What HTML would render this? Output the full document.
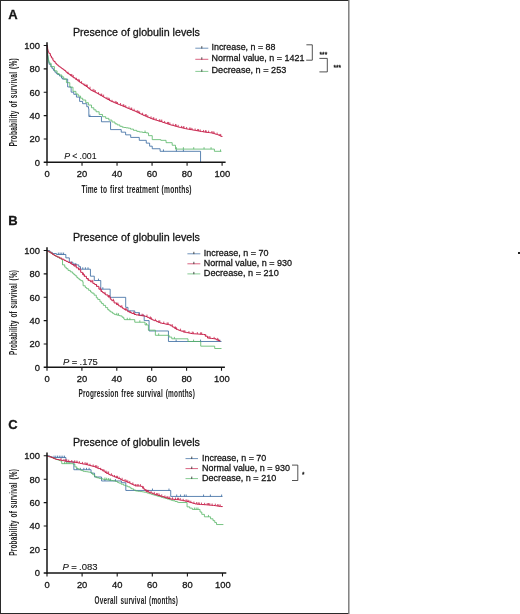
<!DOCTYPE html>
<html lang="en"><head><meta charset="utf-8"><title>Presence of globulin levels</title>
<style>html,body{margin:0;padding:0;background:#fff;}svg{display:block;will-change:transform;}text{font-family:"Liberation Sans",sans-serif;fill:#161616;stroke:#161616;stroke-width:0.28px;}text.c{stroke-width:0;font-weight:bold;fill:#222;}text.k{stroke-width:0.3px;}</style></head><body>
<svg width="520" height="614" viewBox="0 0 520 614">
<rect x="0" y="0" width="520" height="614" fill="#fff"/>
<path d="M0 0.5H349" stroke="#2a2a2a" stroke-width="1" fill="none"/>
<path d="M0.5 0V614" stroke="#2a2a2a" stroke-width="1" fill="none"/>
<path d="M0 613.5H349" stroke="#2a2a2a" stroke-width="1" fill="none"/>
<path d="M348.8 0V614" stroke="#777" stroke-width="1.4" fill="none"/>
<rect x="518" y="252" width="2" height="2" fill="#222"/>
<g>
<text x="8.2" y="19.2" font-size="13" font-weight="bold" fill="#111">A</text>
<text x="72.9" y="36.0" font-size="10.4" textLength="127" lengthAdjust="spacingAndGlyphs">Presence of globulin levels</text>
<path d="M47.00 45.50H47.32V50.76H47.63V56.01H47.95V58.41H48.26V59.98H48.58V61.56H48.89V63.14H49.21V64.35H50.89V66.94H52.13V68.66H53.48V70.37H54.91V72.20H56.35V73.63H57.57V74.53H59.48V76.03H61.52V78.08H62.58V79.14H67.66V86.96H71.13V92.17H73.76V94.30H76.43V97.09H79.60V101.42H82.61V103.69H86.80V106.72H88.50V108.69H88.85V116.51H101.46V121.77H110.56V129.60H121.24V132.17H125.62V134.85H130.70V137.42H139.28V140.34H146.28V143.14H149.61V146.18H152.24V148.75H160.11V151.32H200.56V162.30" fill="none" stroke="#33669e" stroke-width="0.8" stroke-linejoin="miter"/>
<path d="M89.90 116.51v-1.90M163.44 151.32v-1.90M176.40 151.32v-1.90M183.40 151.32v-1.90" fill="none" stroke="#33669e" stroke-width="0.8"/>
<path d="M47.00 45.50H47.32V50.23H47.63V54.96H47.95V57.24H48.26V58.82H48.58V60.39H48.89V61.97H49.21V63.21H51.08V66.58H54.42V70.91H57.09V73.47H59.16V74.99H61.85V76.87H63.73V78.97H66.41V82.66H69.79V87.18H72.99V91.35H75.92V94.01H78.17V96.05H80.59V98.21H82.69V100.03H85.74V102.68H88.42V105.04H91.49V107.77H93.85V109.86H96.04V111.76H99.15V114.46H102.54V116.70H105.73V118.34H108.84V120.08H111.96V122.01H114.97V123.81H117.16V124.93H119.82V126.30H122.22V127.19H124.10V127.50H125.98V127.82H128.26V128.20H130.51V129.12H133.44V130.33H136.79V131.39H139.33V131.98H142.64V132.46H146.04V132.86H148.03V133.10H148.56V135.67H152.24V139.64H160.81V140.34H166.07V142.68H172.20V145.25H175.52V149.10H214.40V151.32H221.40" fill="none" stroke="#55b565" stroke-width="0.8" stroke-linejoin="miter"/>
<path d="M145.06 132.46v-1.90M176.40 149.10v-1.90M183.40 149.10v-1.90M193.73 149.10v-1.90M204.06 149.10v-1.90M211.07 149.10v-1.90M220.52 151.32v-1.90" fill="none" stroke="#55b565" stroke-width="0.8"/>
<path d="M47.00 45.50H47.32V47.39H47.63V49.28H47.95V50.90H48.26V51.57H48.58V52.23H48.89V52.89H49.21V53.56H50.38V55.98H51.42V57.94H52.85V60.27H53.83V61.49H55.17V63.18H56.38V64.33H57.34V65.24H58.66V66.37H59.61V67.03H60.87V67.90H61.84V68.58H62.84V69.31H64.09V70.41H65.66V71.78H66.68V72.67H67.77V73.61H69.19V74.65H70.85V75.87H72.23V76.88H73.46V77.78H75.15V78.99H76.10V79.68H77.70V80.82H78.85V81.65H79.88V82.38H80.89V83.06H82.05V83.83H83.61V84.87H84.68V85.58H86.05V86.50H87.48V87.57H88.69V88.58H90.04V89.71H91.01V90.27H91.98V90.77H93.06V91.32H94.51V92.07H95.77V92.72H96.94V93.31H98.32V94.13H99.59V94.89H100.75V95.58H102.29V96.51H103.76V97.39H104.87V98.01H106.25V98.76H107.58V99.50H109.19V100.38H110.68V101.20H111.83V101.71H113.52V102.40H114.53V102.82H115.78V103.33H117.30V103.95H118.34V104.38H119.64V104.93H120.59V105.32H122.04V105.92H123.56V106.56H124.93V107.13H126.54V107.82H127.70V108.32H129.17V108.95H130.56V109.54H131.94V110.12H133.21V110.63H134.80V111.26H136.46V112.05H137.75V112.69H139.19V113.39H140.16V113.87H141.63V114.59H143.06V115.29H144.76V116.03H146.33V116.67H147.48V117.14H148.70V117.64H150.14V118.23H151.08V118.61H152.36V119.12H153.42V119.45H154.43V119.76H155.39V120.05H156.92V120.52H157.94V120.83H159.05V121.18H160.28V121.55H161.89V122.08H162.87V122.41H164.14V122.84H165.50V123.30H167.11V123.85H168.68V124.39H170.28V124.88H171.41V125.19H172.66V125.53H173.86V125.86H175.48V126.30H177.15V126.75H178.19V127.04H179.25V127.28H180.35V127.54H181.45V127.79H182.76V128.09H184.14V128.41H185.27V128.67H186.19V128.89H187.44V129.13H188.65V129.34H190.01V129.58H191.68V129.87H193.15V130.12H194.47V130.35H195.88V130.60H197.33V130.86H198.29V131.03H199.92V131.32H201.45V131.59H203.06V131.87H204.61V132.11H205.84V132.26H207.07V132.40H208.07V132.52H209.49V132.68H210.46V132.80H211.43V132.97H212.52V133.29H213.56V133.59H214.75V133.94H215.71V134.22H216.63V134.48H217.67V134.79H218.67V135.24H219.87V135.84H220.81V136.31H222.10V136.95" fill="none" stroke="#c8234c" stroke-width="1.0" stroke-linejoin="miter"/>
<path d="M68.01 73.61v-1.90M70.89 75.87v-1.90M71.82 75.87v-1.90M73.24 76.88v-1.90M76.50 79.68v-1.90M78.78 80.82v-1.90M79.48 81.65v-1.90M81.57 83.06v-1.90M84.87 85.58v-1.90M86.48 86.50v-1.90M87.31 86.50v-1.90M90.03 88.58v-1.90M93.05 90.77v-1.90M94.09 91.32v-1.90M95.35 92.07v-1.90M98.53 94.13v-1.90M101.00 95.58v-1.90M101.73 95.58v-1.90M103.62 96.51v-1.90M106.95 98.76v-1.90M108.75 99.50v-1.90M109.50 100.38v-1.90M112.05 101.71v-1.90M115.19 102.82v-1.90M116.38 103.33v-1.90M117.48 103.95v-1.90M120.56 104.93v-1.90M123.20 105.92v-1.90M123.99 106.56v-1.90M125.69 107.13v-1.90M129.01 108.32v-1.90M131.00 109.54v-1.90M131.72 109.54v-1.90M134.08 110.63v-1.90M137.31 112.05v-1.90M138.66 112.69v-1.90M139.63 113.39v-1.90M142.58 114.59v-1.90M145.39 116.03v-1.90M146.26 116.03v-1.90M147.77 117.14v-1.90M151.06 118.23v-1.90M153.25 119.12v-1.90M153.95 119.45v-1.90M156.12 120.05v-1.90M159.41 121.18v-1.90M160.93 121.55v-1.90M161.80 121.55v-1.90M164.60 122.84v-1.90M167.56 123.85v-1.90M168.54 123.85v-1.90M169.87 124.39v-1.90M173.09 125.53v-1.90M175.48 125.86v-1.90M176.19 126.30v-1.90M178.17 126.75v-1.90M181.49 127.79v-1.90M183.20 128.09v-1.90M183.98 128.09v-1.90M186.62 128.89v-1.90M189.70 129.34v-1.90M190.82 129.58v-1.90M191.99 129.87v-1.90M195.12 130.35v-1.90M197.69 130.86v-1.90M198.45 131.03v-1.90M200.23 131.32v-1.90M203.56 131.87v-1.90M205.46 132.11v-1.90M206.19 132.26v-1.90M208.64 132.52v-1.90M211.83 132.97v-1.90M213.10 133.29v-1.90M214.13 133.59v-1.90M217.14 134.48v-1.90M219.88 135.84v-1.90M220.71 135.84v-1.90" fill="none" stroke="#c8234c" stroke-width="0.8"/>
<path d="M47 42.20V163.05" stroke="#151515" stroke-width="1.5" fill="none"/>
<path d="M43.7 162.30H225.6" stroke="#151515" stroke-width="1.5" fill="none"/>
<path d="M43.7 138.94H47M43.7 115.58H47M43.7 92.22H47M43.7 68.86H47M43.7 45.50H47M47.00 162.30V165.80M82.02 162.30V165.80M117.04 162.30V165.80M152.06 162.30V165.80M187.08 162.30V165.80M222.10 162.30V165.80" stroke="#151515" stroke-width="1.1" fill="none"/>
<text x="39.9" y="165.65" font-size="9.4" text-anchor="end" class="k">0</text>
<text x="39.9" y="142.29" font-size="9.4" text-anchor="end" class="k">20</text>
<text x="39.9" y="118.93" font-size="9.4" text-anchor="end" class="k">40</text>
<text x="39.9" y="95.57" font-size="9.4" text-anchor="end" class="k">60</text>
<text x="39.9" y="72.21" font-size="9.4" text-anchor="end" class="k">80</text>
<text x="39.9" y="48.85" font-size="9.4" text-anchor="end" class="k">100</text>
<text x="47.00" y="177.20" font-size="9.4" text-anchor="middle" class="k">0</text>
<text x="82.02" y="177.20" font-size="9.4" text-anchor="middle" class="k">20</text>
<text x="117.04" y="177.20" font-size="9.4" text-anchor="middle" class="k">40</text>
<text x="152.06" y="177.20" font-size="9.4" text-anchor="middle" class="k">60</text>
<text x="187.08" y="177.20" font-size="9.4" text-anchor="middle" class="k">80</text>
<text x="222.40" y="177.20" font-size="9.4" text-anchor="middle" class="k">100</text>
<text x="81.5" y="192.5" font-size="10.7" class="c" letter-spacing="0.35" word-spacing="1.2" textLength="110.3" lengthAdjust="spacingAndGlyphs">Time to first treatment (months)</text>
<text transform="translate(17.2 146.5) rotate(-90)" font-size="10.7" class="c" letter-spacing="0.35" word-spacing="1.2" textLength="88.3" lengthAdjust="spacingAndGlyphs">Probability of survival (%)</text>
<text x="64.2" y="159.1" font-size="9.0" style="stroke-width:0.1px" word-spacing="-0.3" textLength="32.4" lengthAdjust="spacingAndGlyphs"><tspan font-style="italic">P</tspan> &lt; .001</text>
<path d="M195.3 48.20H208.3" stroke="#33669e" stroke-width="0.7" fill="none"/>
<path d="M201.80 48.50v-2.3" stroke="#222" stroke-width="0.8" fill="none"/>
<text x="211.5" y="50.00" font-size="9.0" textLength="64.0" lengthAdjust="spacingAndGlyphs">Increase, n = 88</text>
<path d="M195.3 59.30H208.3" stroke="#c8234c" stroke-width="0.7" fill="none"/>
<path d="M201.80 59.60v-2.3" stroke="#222" stroke-width="0.8" fill="none"/>
<text x="211.5" y="61.10" font-size="9.0" textLength="93.0" lengthAdjust="spacingAndGlyphs">Normal value, n = 1421</text>
<path d="M195.3 71.40H208.3" stroke="#55b565" stroke-width="0.7" fill="none"/>
<path d="M201.80 71.70v-2.3" stroke="#222" stroke-width="0.8" fill="none"/>
<text x="211.5" y="73.10" font-size="9.0" textLength="74.8" lengthAdjust="spacingAndGlyphs">Decrease, n = 253</text>
</g>
<g>
<text x="8.2" y="224.5" font-size="13" font-weight="bold" fill="#111">B</text>
<text x="72.9" y="241.0" font-size="10.4" textLength="127" lengthAdjust="spacingAndGlyphs">Presence of globulin levels</text>
<path d="M47.00 250.50H49.62V252.25H52.23V253.54H56.42V254.47H65.85V257.86H69.34V262.18H72.83V264.87H78.76V266.62H80.50V269.19H90.45V276.20H94.29V280.52H100.75V289.16H110.17V297.34H125.70V307.38H127.97V310.89H134.77V312.64H139.49V315.32H144.20V320.58H149.08V330.98H168.45V341.49H221.50" fill="none" stroke="#33669e" stroke-width="0.8" stroke-linejoin="miter"/>
<path d="M58.34 254.47v-1.90M60.09 254.47v-1.90M61.83 254.47v-1.90M63.58 254.47v-1.90M74.05 264.87v-1.90M75.79 264.87v-1.90M82.77 269.19v-1.90M85.39 269.19v-1.90M88.01 269.19v-1.90M98.48 280.52v-1.90M102.84 289.16v-1.90M176.13 341.49v-1.90M200.56 341.49v-1.90M219.76 341.49v-1.90" fill="none" stroke="#33669e" stroke-width="0.8"/>
<path d="M47.00 250.50H47.31V250.72H47.63V250.94H47.94V251.16H48.26V251.38H48.57V251.61H48.88V251.83H49.20V252.05H50.78V253.16H52.53V254.39H54.06V255.43H55.66V256.31H57.21V257.16H59.20V258.26H60.95V259.22H61.66V259.61H62.53V264.87H64.74V267.16H66.23V268.71H68.04V270.41H70.25V271.84H72.35V273.20H73.71V274.40H75.06V275.76H76.75V277.45H78.04V278.75H79.52V279.78H80.82V280.68H82.74V282.01H82.77V282.04H83.12V285.77H85.28V287.56H86.67V288.70H88.64V290.33H90.55V291.97H91.92V293.14H94.07V295.17H96.30V297.76H97.75V299.45H99.97V301.86H101.61V303.56H103.34V305.36H105.60V307.60H107.69V309.65H109.08V310.98H110.76V312.10H112.52V313.28H114.09V314.33H115.52V314.73H117.08V315.13H119.05V315.64H120.29V315.96H122.10V317.25H123.78V318.94H124.48V319.65H134.77V322.22H145.07V324.90H148.38V330.16H155.36V335.30H169.15V337.05H171.77V338.80H188.00V341.49H200.73V346.16H214.69V348.50H221.50" fill="none" stroke="#55b565" stroke-width="0.8" stroke-linejoin="miter"/>
<path d="M116.80 314.73v-1.90M118.55 315.13v-1.90M127.27 319.65v-1.90M129.89 319.65v-1.90M139.83 322.22v-1.90M146.47 324.90v-1.90M158.68 335.30v-1.90M174.38 338.80v-1.90M193.58 341.49v-1.90" fill="none" stroke="#55b565" stroke-width="0.8"/>
<path d="M47.00 250.50H47.31V250.72H47.63V250.94H47.94V251.16H48.26V251.38H48.57V251.61H48.88V251.83H49.20V252.05H50.96V253.29H52.56V254.41H54.16V255.47H55.73V256.24H57.31V257.03H59.38V258.05H61.76V259.23H64.07V260.39H65.96V261.35H68.06V262.41H70.32V263.55H71.77V264.45H73.87V266.03H76.26V267.83H78.51V269.72H80.71V272.37H82.61V274.65H84.16V276.30H86.41V278.56H88.14V280.30H90.40V281.82H92.87V283.38H94.66V284.52H96.47V286.36H98.90V289.18H101.08V291.44H102.62V292.63H104.11V293.78H105.63V294.95H108.02V296.97H110.29V299.22H111.80V300.71H114.10V302.97H116.57V304.58H118.67V305.91H120.42V307.02H122.39V308.27H123.89V309.22H125.25V310.09H127.71V311.66H129.80V312.61H131.75V313.44H134.17V314.48H136.01V314.92H138.36V315.27H140.66V315.61H142.24V315.84H143.88V316.08H145.56V316.51H147.18V317.34H149.20V318.38H150.84V319.23H152.67V320.08H154.16V320.67H156.55V321.62H158.30V322.31H160.17V323.05H162.19V323.50H164.57V323.98H166.40V324.35H168.80V324.83H170.72V325.90H172.68V327.14H174.63V328.38H175.99V329.24H177.84V329.95H179.40V330.55H180.75V331.07H183.01V331.92H184.55V332.24H186.44V332.63H188.62V333.07H190.60V333.48H192.32V333.72H194.26V333.85H196.25V333.98H198.49V334.14H199.96V334.24H201.95V334.37H203.58V334.53H205.24V336.20H207.47V338.04H209.40V338.27H211.39V338.51H213.61V338.78H216.01V339.76H217.86V340.58H219.91V341.48H219.93V341.49" fill="none" stroke="#c8234c" stroke-width="1.0" stroke-linejoin="miter"/>
<path d="M71.43 263.55v-1.90M75.13 266.03v-1.90M76.10 266.03v-1.90M79.82 269.72v-1.90M83.49 274.65v-1.90M84.47 276.30v-1.90M88.22 280.30v-1.90M91.86 281.82v-1.90M92.84 281.82v-1.90M96.61 286.36v-1.90M100.23 289.18v-1.90M101.20 291.44v-1.90M105.00 293.78v-1.90M108.59 296.97v-1.90M109.57 296.97v-1.90M113.40 300.71v-1.90M116.96 304.58v-1.90M117.94 304.58v-1.90M121.79 307.02v-1.90M125.32 310.09v-1.90M126.31 310.09v-1.90M130.18 312.61v-1.90M133.69 313.44v-1.90M134.68 314.48v-1.90M138.58 315.27v-1.90M142.05 315.61v-1.90M143.05 315.84v-1.90M146.97 316.51v-1.90M150.42 318.38v-1.90M151.42 319.23v-1.90M155.37 320.67v-1.90M158.78 322.31v-1.90M159.79 322.31v-1.90M163.76 323.50v-1.90M167.15 324.35v-1.90M168.16 324.35v-1.90M172.15 325.90v-1.90M175.51 328.38v-1.90M176.53 329.24v-1.90M180.55 330.55v-1.90M183.88 331.92v-1.90M184.90 332.24v-1.90M188.94 333.07v-1.90M192.24 333.48v-1.90M193.27 333.72v-1.90M197.33 333.98v-1.90M200.61 334.24v-1.90M201.64 334.24v-1.90M205.72 336.20v-1.90M208.97 338.04v-1.90M210.01 338.27v-1.90M214.12 338.78v-1.90M217.33 339.76v-1.90M218.39 340.58v-1.90" fill="none" stroke="#c8234c" stroke-width="0.8"/>
<path d="M47 247.20V368.05" stroke="#151515" stroke-width="1.5" fill="none"/>
<path d="M43.7 367.30H224.9" stroke="#151515" stroke-width="1.5" fill="none"/>
<path d="M43.7 343.94H47M43.7 320.58H47M43.7 297.22H47M43.7 273.86H47M43.7 250.50H47M47.00 367.30V370.80M81.90 367.30V370.80M116.80 367.30V370.80M151.70 367.30V370.80M186.60 367.30V370.80M221.50 367.30V370.80" stroke="#151515" stroke-width="1.1" fill="none"/>
<text x="39.9" y="370.65" font-size="9.4" text-anchor="end" class="k">0</text>
<text x="39.9" y="347.29" font-size="9.4" text-anchor="end" class="k">20</text>
<text x="39.9" y="323.93" font-size="9.4" text-anchor="end" class="k">40</text>
<text x="39.9" y="300.57" font-size="9.4" text-anchor="end" class="k">60</text>
<text x="39.9" y="277.21" font-size="9.4" text-anchor="end" class="k">80</text>
<text x="39.9" y="253.85" font-size="9.4" text-anchor="end" class="k">100</text>
<text x="47.00" y="382.20" font-size="9.4" text-anchor="middle" class="k">0</text>
<text x="81.90" y="382.20" font-size="9.4" text-anchor="middle" class="k">20</text>
<text x="116.80" y="382.20" font-size="9.4" text-anchor="middle" class="k">40</text>
<text x="151.70" y="382.20" font-size="9.4" text-anchor="middle" class="k">60</text>
<text x="186.60" y="382.20" font-size="9.4" text-anchor="middle" class="k">80</text>
<text x="221.80" y="382.20" font-size="9.4" text-anchor="middle" class="k">100</text>
<text x="78.5" y="397.1" font-size="10.7" class="c" letter-spacing="0.35" word-spacing="1.2" textLength="116.5" lengthAdjust="spacingAndGlyphs">Progression free survival (months)</text>
<text transform="translate(17.0 355.0) rotate(-90)" font-size="10.7" class="c" letter-spacing="0.35" word-spacing="1.2" textLength="85.0" lengthAdjust="spacingAndGlyphs">Probability of survival (%)</text>
<text x="63.1" y="364.8" font-size="9.0" style="stroke-width:0.1px" word-spacing="-0.3" textLength="34.8" lengthAdjust="spacingAndGlyphs"><tspan font-style="italic">P</tspan> = .175</text>
<path d="M187.4 253.80H200.3" stroke="#33669e" stroke-width="0.7" fill="none"/>
<path d="M193.85 254.10v-2.3" stroke="#222" stroke-width="0.8" fill="none"/>
<text x="203.8" y="255.50" font-size="9.0" textLength="64.6" lengthAdjust="spacingAndGlyphs">Increase, n = 70</text>
<path d="M187.4 263.80H200.3" stroke="#c8234c" stroke-width="0.7" fill="none"/>
<path d="M193.85 264.10v-2.3" stroke="#222" stroke-width="0.8" fill="none"/>
<text x="203.8" y="265.50" font-size="9.0" textLength="88.1" lengthAdjust="spacingAndGlyphs">Normal value, n = 930</text>
<path d="M187.4 273.90H200.3" stroke="#55b565" stroke-width="0.7" fill="none"/>
<path d="M193.85 274.20v-2.3" stroke="#222" stroke-width="0.8" fill="none"/>
<text x="203.8" y="275.70" font-size="9.0" textLength="75.0" lengthAdjust="spacingAndGlyphs">Decrease, n = 210</text>
</g>
<g>
<text x="8.2" y="429.2" font-size="13" font-weight="bold" fill="#111">C</text>
<text x="72.9" y="445.7" font-size="10.4" textLength="127" lengthAdjust="spacingAndGlyphs">Presence of globulin levels</text>
<path d="M47.00 455.80H49.63V456.74H52.27V457.56H65.95V461.89H73.85V469.73H91.05V473.13H94.56V477.00H101.58V480.98H121.41V482.73H125.80V490.46H170.73V496.43H222.50" fill="none" stroke="#33669e" stroke-width="0.8" stroke-linejoin="miter"/>
<path d="M54.02 457.56v-1.90M55.77 457.56v-1.90M57.53 457.56v-1.90M59.28 457.56v-1.90M61.04 457.56v-1.90M62.80 457.56v-1.90M64.55 457.56v-1.90M76.83 469.73v-1.90M80.34 469.73v-1.90M83.85 469.73v-1.90M86.49 469.73v-1.90M89.12 469.73v-1.90M104.91 480.98v-1.90M110.18 480.98v-1.90M115.44 480.98v-1.90M152.48 490.46v-1.90M168.97 490.46v-1.90M176.69 496.43v-1.90M180.56 496.43v-1.90M184.42 496.43v-1.90M186.17 496.43v-1.90M203.55 496.43v-1.90M210.39 496.43v-1.90M221.62 496.43v-1.90" fill="none" stroke="#33669e" stroke-width="0.8"/>
<path d="M47.00 455.80H47.32V455.93H47.63V456.06H47.95V456.19H48.26V456.32H48.58V456.45H48.90V456.57H49.21V456.70H51.24V457.53H52.86V458.20H54.20V458.74H56.22V459.52H57.62V459.99H59.06V460.47H60.17V460.84H60.86V461.07H61.74V463.65H72.97V464.11H74.88V466.90H76.81V468.51H78.39V469.20H80.33V470.06H81.69V470.65H83.34V471.38H84.80V471.57H86.61V471.81H88.01V472.00H89.39V472.18H91.09V473.07H92.71V474.71H94.74V476.76H96.71V477.78H98.93V478.34H101.04V478.87H103.22V479.33H105.59V479.67H107.40V479.94H109.12V480.19H111.62V480.55H113.14V480.77H115.33V481.36H117.43V482.40H118.83V483.09H121.15V484.24H123.53V485.19H125.61V485.98H127.81V486.83H130.10V488.01H131.62V488.86H133.57V489.97H135.51V490.96H137.83V491.28H140.11V491.59H142.42V491.90H144.45V492.27H146.83V492.99H148.98V493.63H151.13V494.27H152.75V494.76H154.14V495.17H155.64V495.63H157.41V496.16H158.88V496.60H161.20V497.29H163.20V497.88H165.28V498.49H167.36V499.10H169.50V499.73H171.41V500.32H172.77V500.74H175.04V501.46H177.26V502.15H178.45V502.52H187.05V506.86H189.68V508.14H192.31V509.43H200.04V512.01H201.79V514.35H204.42V516.81H210.57V518.80H213.02V520.67H214.78V522.55H216.53V524.54H223.38" fill="none" stroke="#55b565" stroke-width="0.8" stroke-linejoin="miter"/>
<path d="M64.55 463.65v-1.90M66.31 463.65v-1.90M68.06 463.65v-1.90M69.81 463.65v-1.90M104.91 479.33v-1.90M106.67 479.67v-1.90M108.42 479.94v-1.90M110.18 480.19v-1.90M194.42 509.43v-1.90M196.17 509.43v-1.90M197.93 509.43v-1.90M208.46 516.81v-1.90" fill="none" stroke="#55b565" stroke-width="0.8"/>
<path d="M47.00 455.80H47.32V455.93H47.63V456.06H47.95V456.19H48.26V456.32H48.58V456.45H48.90V456.57H49.21V456.70H50.95V457.41H53.02V458.26H54.97V459.05H56.39V459.47H58.88V459.94H61.15V460.38H63.62V460.86H65.10V461.14H66.76V461.41H68.15V461.60H70.41V461.90H72.07V462.12H73.57V462.32H75.41V462.57H77.82V462.98H80.12V463.45H81.77V463.79H83.30V464.10H85.71V464.62H87.72V465.11H89.89V465.64H91.34V466.00H92.76V466.35H94.91V467.13H96.75V467.96H98.19V468.60H100.63V469.70H102.71V471.01H104.99V472.45H106.44V473.37H108.78V474.58H110.21V475.18H112.56V476.16H114.44V476.94H116.18V477.71H118.18V478.60H120.60V479.68H122.26V480.37H123.76V480.94H125.73V481.69H127.35V482.32H128.83V482.92H130.37V483.66H131.78V484.34H133.36V485.10H135.08V485.92H136.78V486.01H139.01H140.70V486.34H142.63V488.23H144.19V489.75H145.94V491.28H147.31V491.80H148.95V492.42H150.32V492.93H152.52V493.76H154.51V494.38H156.08V494.87H157.99V495.47H160.42V496.23H161.89V496.67H164.19V497.35H166.05V497.89H167.97V498.46H170.29V499.05H172.10V499.22H174.03V499.41H176.18V499.61H178.67V499.87H180.42V500.23H182.73V500.70H184.90V501.15H186.99V501.57H188.81V502.10H190.57V502.62H191.98V503.03H193.48V503.47H194.92V503.90H197.13V504.25H198.77V504.36H200.31V504.47H201.76V504.57H204.09V504.72H206.45V504.91H208.58V505.09H210.25V505.22H211.89V505.36H213.58V505.53H215.46V505.81H216.99V506.04H218.86V506.32H220.52V506.56H222.50V506.86" fill="none" stroke="#c8234c" stroke-width="1.0" stroke-linejoin="miter"/>
<path d="M61.04 459.94v-1.90M63.99 460.86v-1.90M65.70 461.14v-1.90M66.75 461.14v-1.90M68.69 461.60v-1.90M71.76 461.90v-1.90M74.55 462.32v-1.90M76.06 462.57v-1.90M77.16 462.57v-1.90M79.33 462.98v-1.90M82.47 463.79v-1.90M85.07 464.10v-1.90M86.41 464.62v-1.90M87.60 464.62v-1.90M89.99 465.64v-1.90M93.16 466.35v-1.90M95.55 467.13v-1.90M96.75 467.13v-1.90M98.08 467.96v-1.90M100.69 469.70v-1.90M103.83 471.01v-1.90M105.99 472.45v-1.90M107.09 473.37v-1.90M108.60 473.37v-1.90M111.40 475.18v-1.90M114.47 476.94v-1.90M116.40 477.71v-1.90M117.45 477.71v-1.90M119.16 478.60v-1.90M122.11 479.68v-1.90M125.07 480.94v-1.90M126.78 481.69v-1.90M127.83 482.32v-1.90M129.76 482.92v-1.90M132.83 484.34v-1.90M135.63 485.92v-1.90M137.14 486.01v-1.90M138.24 486.01v-1.90M140.40 486.01v-1.90M143.54 488.23v-1.90M146.15 491.28v-1.90M147.48 491.80v-1.90M148.68 491.80v-1.90M151.07 492.93v-1.90M154.24 493.76v-1.90M156.62 494.87v-1.90M157.82 494.87v-1.90M159.16 495.47v-1.90M161.76 496.23v-1.90M164.90 497.35v-1.90M167.07 497.89v-1.90M168.16 498.46v-1.90M169.68 498.46v-1.90M172.47 499.22v-1.90M175.54 499.41v-1.90M177.47 499.61v-1.90M178.52 499.61v-1.90M180.24 499.87v-1.90M183.19 500.70v-1.90M186.14 501.15v-1.90M187.85 501.57v-1.90M188.90 502.10v-1.90M190.84 502.62v-1.90M193.91 503.47v-1.90M196.70 503.90v-1.90M198.21 504.25v-1.90M199.31 504.36v-1.90M201.47 504.47v-1.90M204.62 504.72v-1.90M207.22 504.91v-1.90M208.55 504.91v-1.90M209.75 505.09v-1.90M212.14 505.36v-1.90M215.31 505.53v-1.90M217.70 506.04v-1.90M218.89 506.32v-1.90M220.23 506.32v-1.90" fill="none" stroke="#c8234c" stroke-width="0.8"/>
<path d="M47 452.50V573.65" stroke="#151515" stroke-width="1.5" fill="none"/>
<path d="M43.7 572.90H226.3" stroke="#151515" stroke-width="1.5" fill="none"/>
<path d="M43.7 549.48H47M43.7 526.06H47M43.7 502.64H47M43.7 479.22H47M43.7 455.80H47M47.00 572.90V576.40M82.10 572.90V576.40M117.20 572.90V576.40M152.30 572.90V576.40M187.40 572.90V576.40M222.50 572.90V576.40" stroke="#151515" stroke-width="1.1" fill="none"/>
<text x="39.9" y="576.25" font-size="9.4" text-anchor="end" class="k">0</text>
<text x="39.9" y="552.83" font-size="9.4" text-anchor="end" class="k">20</text>
<text x="39.9" y="529.41" font-size="9.4" text-anchor="end" class="k">40</text>
<text x="39.9" y="505.99" font-size="9.4" text-anchor="end" class="k">60</text>
<text x="39.9" y="482.57" font-size="9.4" text-anchor="end" class="k">80</text>
<text x="39.9" y="459.15" font-size="9.4" text-anchor="end" class="k">100</text>
<text x="47.00" y="587.80" font-size="9.4" text-anchor="middle" class="k">0</text>
<text x="82.10" y="587.80" font-size="9.4" text-anchor="middle" class="k">20</text>
<text x="117.20" y="587.80" font-size="9.4" text-anchor="middle" class="k">40</text>
<text x="152.30" y="587.80" font-size="9.4" text-anchor="middle" class="k">60</text>
<text x="187.40" y="587.80" font-size="9.4" text-anchor="middle" class="k">80</text>
<text x="222.80" y="587.80" font-size="9.4" text-anchor="middle" class="k">100</text>
<text x="94.6" y="603.6" font-size="10.7" class="c" letter-spacing="0.35" word-spacing="1.2" textLength="83.6" lengthAdjust="spacingAndGlyphs">Overall survival (months)</text>
<text transform="translate(17.3 555.8) rotate(-90)" font-size="10.7" class="c" letter-spacing="0.35" word-spacing="1.2" textLength="86.9" lengthAdjust="spacingAndGlyphs">Probability of survival (%)</text>
<text x="62.5" y="570.0" font-size="9.0" style="stroke-width:0.1px" word-spacing="-0.3" textLength="35.0" lengthAdjust="spacingAndGlyphs"><tspan font-style="italic">P</tspan> = .083</text>
<path d="M185.5 458.60H198.0" stroke="#33669e" stroke-width="0.7" fill="none"/>
<path d="M191.75 458.90v-2.3" stroke="#222" stroke-width="0.8" fill="none"/>
<text x="202.0" y="460.50" font-size="9.0" textLength="64.3" lengthAdjust="spacingAndGlyphs">Increase, n = 70</text>
<path d="M185.5 468.60H198.0" stroke="#c8234c" stroke-width="0.7" fill="none"/>
<path d="M191.75 468.90v-2.3" stroke="#222" stroke-width="0.8" fill="none"/>
<text x="202.0" y="470.50" font-size="9.0" textLength="88.0" lengthAdjust="spacingAndGlyphs">Normal value, n = 930</text>
<path d="M185.5 478.60H198.0" stroke="#55b565" stroke-width="0.7" fill="none"/>
<path d="M191.75 478.90v-2.3" stroke="#222" stroke-width="0.8" fill="none"/>
<text x="202.0" y="480.70" font-size="9.0" textLength="74.3" lengthAdjust="spacingAndGlyphs">Decrease, n = 210</text>
</g>
<path d="M306.4 44.8H312.3V60.2H306.2" stroke="#333" stroke-width="0.85" fill="none"/>
<path d="M319.4 58.4H327.3V71.9H319.4" stroke="#333" stroke-width="0.85" fill="none"/>
<text x="319.6" y="56.8" font-size="6.4" textLength="7.6" lengthAdjust="spacingAndGlyphs">***</text>
<text x="333.4" y="69.5" font-size="6.4" textLength="7.6" lengthAdjust="spacingAndGlyphs">***</text>
<path d="M292 465.1H297.8V480.5H292" stroke="#333" stroke-width="0.85" fill="none"/>
<text x="302.0" y="477.2" font-size="6.4">*</text>
</svg></body></html>
